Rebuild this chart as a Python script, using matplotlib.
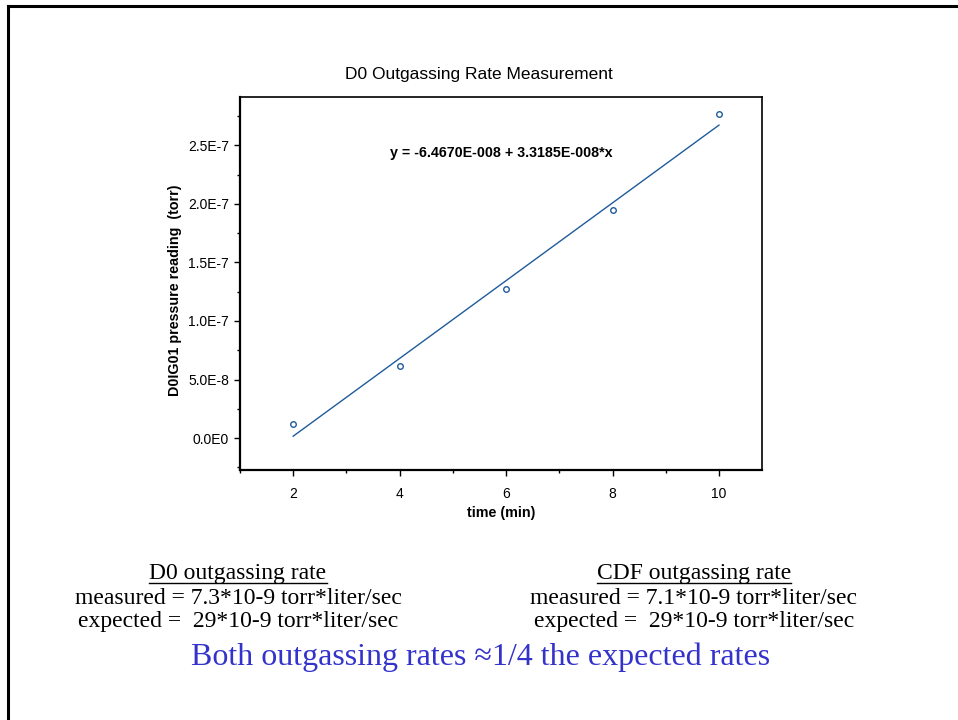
"""D0 outgassing rate slide: pressure vs time with linear fit."""

import matplotlib

matplotlib.use("agg")
import matplotlib.pyplot as plt
from matplotlib.lines import Line2D

plt.rcParams["font.family"] = "Liberation Sans"

# measured points
time_min = [2, 4, 6, 8, 10]
pressure_torr = [1.2e-8, 6.2e-8, 1.27e-7, 1.95e-7, 2.77e-7]

# fit coefficients as printed on the chart
fit_intercept = -6.4670e-8
fit_slope = 3.3185e-8

x_ticks = [2, 4, 6, 8, 10]
x_minor = [1, 3, 5, 7, 9]
y_ticks = [0.0, 5.0e-8, 1.0e-7, 1.5e-7, 2.0e-7, 2.5e-7]
y_ticklabels = ["0.0E0", "5.0E-8", "1.0E-7", "1.5E-7", "2.0E-7", "2.5E-7"]
y_minor = [-2.5e-8, 2.5e-8, 7.5e-8, 1.25e-7, 1.75e-7, 2.25e-7, 2.75e-7]

d0_lines = ["measured = 7.3*10-9 torr*liter/sec", "expected =  29*10-9 torr*liter/sec"]
cdf_lines = ["measured = 7.1*10-9 torr*liter/sec", "expected =  29*10-9 torr*liter/sec"]

line_col = "#1f5b9c"

fig = plt.figure(figsize=(9.58, 7.2), dpi=100)

# slide frame (top and left edges)
fig.add_artist(Line2D([0.008, 0.008], [0.0, 0.992], color="black", lw=2.2))
fig.add_artist(Line2D([0.008, 1.0], [0.992, 0.992], color="black", lw=2.2))

ax = fig.add_axes([0.2505, 0.347, 0.545, 0.518])

fit_x = [time_min[0], time_min[-1]]
fit_y = [fit_intercept + fit_slope * t for t in fit_x]
ax.plot(fit_x, fit_y, color=line_col, lw=1.0)
ax.plot(time_min, pressure_torr, ls="none", marker="o", ms=4, mfc="white",
        mec=line_col, mew=1.0)

ax.set_xlim(1.0, 10.81)
ax.set_ylim(-2.73e-8, 2.91e-7)
ax.set_xticks(x_ticks)
ax.set_xticks(x_minor, minor=True)
ax.set_yticks(y_ticks)
ax.set_yticklabels(y_ticklabels)
ax.set_yticks(y_minor, minor=True)
ax.tick_params(which="major", direction="out", length=4, width=1.0,
               labelsize=10, pad=4)
ax.tick_params(axis="x", which="major", pad=8)
ax.tick_params(which="minor", direction="out", length=2.5, width=1.0)
for side in ["left", "bottom"]:
    ax.spines[side].set_linewidth(1.6)
for side in ["top", "right"]:
    ax.spines[side].set_linewidth(1.2)

ax.set_xlabel("time (min)", fontsize=10.3, fontweight="bold", labelpad=4)
ax.set_ylabel("D0IG01 pressure reading  (torr)", fontsize=10.3,
              fontweight="bold")
ax.yaxis.set_label_coords(-0.111, 0.483)
ax.text(0.5, 0.85, "y = -6.4670E-008 + 3.3185E-008*x", transform=ax.transAxes,
        ha="center", va="center", fontsize=10.3, fontweight="bold")

fig.text(479 / 958, 1 - 75 / 720, "D0 Outgassing Rate Measurement",
         ha="center", va="center", fontsize=12.5)

# summary text below the chart
serif = "Liberation Serif"
head_d0 = fig.text(238 / 958, 1 - 574 / 720, "D0 outgassing rate",
                   ha="center", va="center", fontsize=17, family=serif)
head_cdf = fig.text(694 / 958, 1 - 574 / 720, "CDF outgassing rate",
                    ha="center", va="center", fontsize=17, family=serif)
for i, txt in enumerate(d0_lines):
    fig.text(238 / 958, 1 - (599 + 23 * i) / 720, txt, ha="center",
             va="center", fontsize=17, family=serif)
for i, txt in enumerate(cdf_lines):
    fig.text(694 / 958, 1 - (599 + 23 * i) / 720, txt, ha="center",
             va="center", fontsize=17, family=serif)

# underline the two headers
fig.canvas.draw()
for t in [head_d0, head_cdf]:
    bb = t.get_window_extent()
    fig.add_artist(Line2D([bb.x0 / 958, bb.x1 / 958],
                          [(bb.y0 + 2) / 720, (bb.y0 + 2) / 720],
                          color="black", lw=1.0))

fig.text(481 / 958, 1 - 657 / 720,
         "Both outgassing rates \u22481/4 the expected rates", ha="center",
         va="center", fontsize=23, family=serif, color="#3333cc")

plt.savefig("out.png", dpi=100)
plt.close(fig)
